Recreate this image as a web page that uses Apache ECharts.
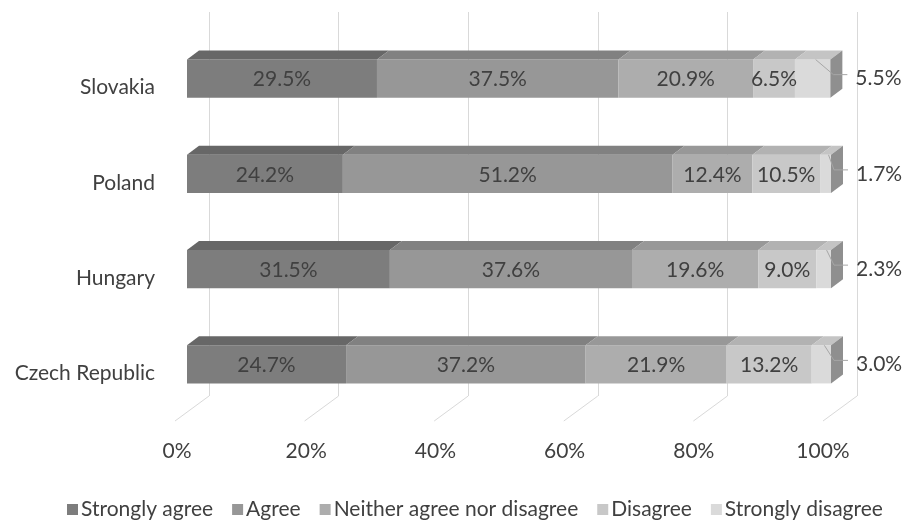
<!DOCTYPE html>
<html>
<head>
<meta charset="utf-8">
<script src="https://cdn.jsdelivr.net/npm/echarts@6/dist/echarts.min.js"></script>
<style>html,body{margin:0;padding:0;background:#fff}#c{width:905px;height:520px}</style>
</head>
<body>
<div id="c"></div>
<script>
// ---- data ----
var countries = ['Slovakia', 'Poland', 'Hungary', 'Czech Republic'];
var seriesNames = ['Strongly agree', 'Agree', 'Neither agree nor disagree', 'Disagree', 'Strongly disagree'];
var stronglyAgree = [29.5, 24.2, 31.5, 24.7];
var agree = [37.5, 51.2, 37.6, 37.2];
var neither = [20.9, 12.4, 19.6, 21.9];
var disagree = [6.5, 10.5, 9.0, 13.2];
var stronglyDisagree = [5.5, 1.7, 2.3, 3.0];
var xTicks = [0, 20, 40, 60, 80, 100];
var xTickLabels = ['0%', '20%', '40%', '60%', '80%', '100%'];

// ---- styles ----
var FONT = 'Lato';
var TXT = '#404040';
var frontColors = ['#7d7d7d', '#979797', '#adadad', '#c8c8c8', '#dadada'];
var topColors = ['#676767', '#818181', '#989898', '#b2b2b2', '#c4c4c4'];
var sideColor = '#8f8f8f';
var DX = 12, DY = 9;

var allValues = [stronglyAgree, agree, neither, disagree, stronglyDisagree];

function buildData(si) {
  var out = [];
  for (var c = 0; c < countries.length; c++) {
    var start = 0;
    for (var k = 0; k < si; k++) start += allValues[k][c];
    out.push([c, start, start + allValues[si][c], allValues[si][c]]);
  }
  return out;
}

function makeRender(si) {
  var last = si === allValues.length - 1;
  return function (params, api) {
    var cat = api.value(0), x0 = api.value(1), x1 = api.value(2), v = api.value(3);
    var p0 = api.coord([x0, cat]);
    var p1 = api.coord([x1, cat]);
    var band = api.size([0, 1])[1];
    var h = band * 0.4;
    var top = p0[1] - h / 2;
    var children = [
      { type: 'rect', shape: { x: p0[0], y: top, width: p1[0] - p0[0], height: h },
        style: { fill: frontColors[si] }, z2: 1 },
      { type: 'polygon', shape: { points: [[p0[0], top], [p1[0], top], [p1[0] + DX, top - DY], [p0[0] + DX, top - DY]] },
        style: { fill: topColors[si] }, z2: 1 }
    ];
    var label = v.toFixed(1) + '%';
    if (last) {
      children.push({ type: 'polygon', shape: { points: [[p1[0], top], [p1[0] + DX, top - DY], [p1[0] + DX, top + h - DY], [p1[0], top + h]] },
        style: { fill: sideColor }, z2: 2 });
      var sx = (p0[0] + p1[0]) / 2 + 3;
      children.push({ type: 'polyline', shape: { points: [[sx, top], [p1[0] + 3, p0[1] - 4], [p1[0] + 17, p0[1] - 4]] },
        style: { stroke: '#a6a6a6', lineWidth: 1, fill: null }, z2: 50 });
      children.push({ type: 'text', x: p1[0] + 25, y: p0[1],
        style: { text: label, fill: TXT, font: '21px ' + FONT, align: 'left', verticalAlign: 'middle' }, z2: 100 });
    } else {
      children.push({ type: 'text', x: (p0[0] + p1[0]) / 2, y: p0[1] + 1,
        style: { text: label, fill: TXT, font: '21px ' + FONT, align: 'center', verticalAlign: 'middle' }, z2: 100 });
    }
    return { type: 'group', children: children };
  };
}

var series = [];
for (var i = 0; i < seriesNames.length; i++) {
  series.push({
    name: seriesNames[i], type: 'custom', xAxisIndex: 0, yAxisIndex: 0,
    renderItem: makeRender(i), data: buildData(i),
    encode: { x: [1, 2], y: 0 },
    itemStyle: { color: frontColors[i] }, z: 5
  });
}
// floor diagonals of the gridlines
series.push({
  type: 'custom', xAxisIndex: 1, yAxisIndex: 1, silent: true, z: 1,
  data: xTicks.map(function (t) { return [t, 0]; }),
  renderItem: function (params, api) {
    var p = api.coord([api.value(0), 0]);
    return { type: 'line', shape: { x1: p[0], y1: p[1], x2: p[0] - 34, y2: p[1] + 25 },
      style: { stroke: '#d9d9d9', lineWidth: 1 } };
  }
});

var chart = echarts.init(document.getElementById('c'), null, { renderer: 'canvas' });
chart.setOption({
  animation: false,
  backgroundColor: '#fff',
  textStyle: { fontFamily: FONT },
  grid: [
    { left: 187, right: 74, top: 31, height: 381, outerBoundsMode: 'none' },
    { left: 209, right: 48, top: 12, height: 384, outerBoundsMode: 'none' },
    { left: 177, right: 82, top: 400, height: 20, outerBoundsMode: 'none' },
    { left: 187, right: 74, top: 40, height: 381, outerBoundsMode: 'none' }
  ],
  xAxis: [
    { gridIndex: 0, type: 'value', min: 0, max: 100, show: false },
    { gridIndex: 1, type: 'value', min: 0, max: 100, interval: 20,
      axisLine: { show: false }, axisTick: { show: false }, axisLabel: { show: false },
      splitLine: { show: true, lineStyle: { color: '#d9d9d9', width: 1 } } },
    { gridIndex: 2, type: 'value', min: 0, max: 100, interval: 20,
      axisLine: { show: false }, axisTick: { show: false }, splitLine: { show: false },
      axisLabel: { show: true, margin: 21, color: TXT, fontSize: 21, fontFamily: FONT,
        formatter: function (v) { return xTickLabels[xTicks.indexOf(v)]; } } },
    { gridIndex: 3, type: 'value', min: 0, max: 100, show: false }
  ],
  yAxis: [
    { gridIndex: 0, type: 'category', data: countries, inverse: true, show: false },
    { gridIndex: 1, type: 'value', min: 0, max: 1, show: false },
    { gridIndex: 2, type: 'value', min: 0, max: 1, show: false },
    { gridIndex: 3, type: 'category', data: countries, inverse: true,
      axisLine: { show: false }, axisTick: { show: false }, splitLine: { show: false },
      axisLabel: { margin: 32, color: TXT, fontSize: 21, fontFamily: FONT } }
  ],
  legend: {
    data: seriesNames, left: 62, top: 494, icon: 'rect', itemWidth: 11, itemHeight: 11, itemGap: 19,
    textStyle: { color: TXT, fontSize: 21, fontFamily: FONT, padding: [0, 0, 0, -2] }
  },
  series: series
});
</script>
</body>
</html>
